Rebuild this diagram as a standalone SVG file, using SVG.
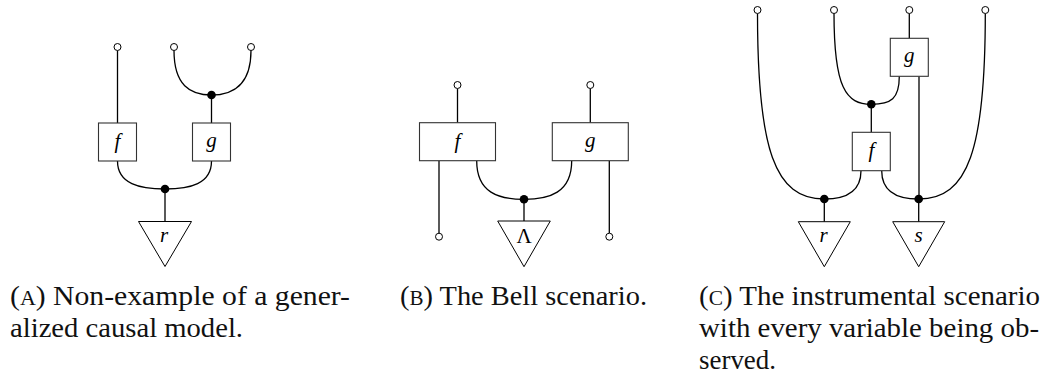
<svg xmlns="http://www.w3.org/2000/svg" width="1051" height="380" viewBox="0 0 1051 380">
<style>
.w{fill:none;stroke:#000;stroke-width:1.3}
.box{fill:#fff;stroke:#333;stroke-width:1.1}
.tri{fill:#fff;stroke:#000;stroke-width:1}
.open{fill:#fff;stroke:#000;stroke-width:1}
.dot{fill:#000}
.lbl{font-family:"Liberation Serif",serif;font-style:italic;font-size:21px;text-anchor:middle;fill:#000}
.up{font-style:normal}
.cap{font-family:"Liberation Serif",serif;font-size:27px;fill:#111}
.sc{font-size:20px}
</style>
<rect width="1051" height="380" fill="#fff"/>

<!-- Panel A -->
<g id="connectors-a">
<path class="w" d="M117.5,50.5 V123"/>
<path class="w" d="M174,50.5 C174,85 190,95 211.5,95"/>
<path class="w" d="M251,50.5 C251,85 233,95 211.5,95"/>
<path class="w" d="M211.5,95 V123"/>
<path class="w" d="M117.5,161 C117.5,184 140,189 165,189"/>
<path class="w" d="M211.5,161 C211.5,184 190,189 165,189"/>
<path class="w" d="M165,189 V221.5"/>
</g>
<g id="a-out1"><circle class="open" cx="117.5" cy="47" r="3.5"/></g>
<g id="a-out2"><circle class="open" cx="174" cy="47" r="3.5"/></g>
<g id="a-out3"><circle class="open" cx="251" cy="47" r="3.5"/></g>
<g id="a-f"><rect class="box" x="98.5" y="123" width="38" height="38"/><text class="lbl" x="117.5" y="148">f</text></g>
<g id="a-g"><rect class="box" x="192.5" y="123" width="38" height="38"/><text class="lbl" x="211.5" y="147">g</text></g>
<g id="a-copy1"><circle class="dot" cx="211.5" cy="95" r="4.3"/></g>
<g id="a-copy2"><circle class="dot" cx="165" cy="189" r="4.3"/></g>
<g id="a-r"><polygon class="tri" points="138.5,221.5 191.5,221.5 165,266.5"/><text class="lbl" x="164" y="242">r</text></g>

<!-- Panel B -->
<g id="connectors-b">
<path class="w" d="M457.5,88.5 V122.7"/>
<path class="w" d="M590.3,88.5 V122.7"/>
<path class="w" d="M439,160.7 V233.2"/>
<path class="w" d="M609.3,160.7 V233.2"/>
<path class="w" d="M476.7,160.7 C476.7,193 499,199.3 524,199.3"/>
<path class="w" d="M571.7,160.7 C571.7,193 549,199.3 524,199.3"/>
<path class="w" d="M524,199.3 V221"/>
</g>
<g id="b-out1"><circle class="open" cx="457.5" cy="85" r="3.5"/></g>
<g id="b-out2"><circle class="open" cx="590.3" cy="85" r="3.5"/></g>
<g id="b-in1"><circle class="open" cx="439" cy="236.7" r="3.5"/></g>
<g id="b-in2"><circle class="open" cx="609.3" cy="236.7" r="3.5"/></g>
<g id="b-f"><rect class="box" x="419.5" y="122.7" width="76" height="38"/><text class="lbl" x="457.5" y="148">f</text></g>
<g id="b-g"><rect class="box" x="552.3" y="122.7" width="76" height="38"/><text class="lbl" x="590.3" y="147">g</text></g>
<g id="b-copy"><circle class="dot" cx="524" cy="199.3" r="4.3"/></g>
<g id="b-lambda"><polygon class="tri" points="497.7,221 550.3,221 524,266.7"/><text class="lbl up" x="524" y="243">Λ</text></g>

<!-- Panel C -->
<g id="connectors-c">
<path class="w" d="M909.3,13.5 V38.3"/>
<path class="w" d="M834,13.5 C834,88 846,104.3 871.3,104.3"/>
<path class="w" d="M899.3,76.3 C899.3,99 891,104.3 871.3,104.3"/>
<path class="w" d="M871.3,104.3 V132.3"/>
<path class="w" d="M919,76.3 V199"/>
<path class="w" d="M861,170.7 C861,192 845,199 824.3,199"/>
<path class="w" d="M881.7,170.7 C881.7,192 898,199 918.7,199"/>
<path class="w" d="M757.5,13.5 C757.5,150 775,199 824.3,199"/>
<path class="w" d="M985.3,13.5 C985.3,150 968,199 918.7,199"/>
<path class="w" d="M824.3,199 V221.7"/>
<path class="w" d="M918.7,199 V221.7"/>
</g>
<g id="c-out1"><circle class="open" cx="757.5" cy="10" r="3.5"/></g>
<g id="c-out2"><circle class="open" cx="834" cy="10" r="3.5"/></g>
<g id="c-out3"><circle class="open" cx="909.3" cy="10" r="3.5"/></g>
<g id="c-out4"><circle class="open" cx="985.3" cy="10" r="3.5"/></g>
<g id="c-g"><rect class="box" x="890.3" y="38.3" width="38" height="38"/><text class="lbl" x="909.3" y="62">g</text></g>
<g id="c-f"><rect class="box" x="852.3" y="132.3" width="38" height="38.4"/><text class="lbl" x="871.3" y="157">f</text></g>
<g id="c-copy1"><circle class="dot" cx="871.3" cy="104.3" r="4.3"/></g>
<g id="c-copy2"><circle class="dot" cx="824.3" cy="199" r="4.3"/></g>
<g id="c-copy3"><circle class="dot" cx="918.7" cy="199" r="4.3"/></g>
<g id="c-r"><polygon class="tri" points="798.3,221.7 850.3,221.7 824.3,266.7"/><text class="lbl" x="823.5" y="242">r</text></g>
<g id="c-s"><polygon class="tri" points="892.7,221.7 944.7,221.7 918.7,266.7"/><text class="lbl" x="918.7" y="242">s</text></g>

<!-- Captions -->
<g id="captions">
<text class="cap" x="10" y="305" textLength="340" lengthAdjust="spacingAndGlyphs">(<tspan class="sc">A</tspan>) Non-example of a gener-</text>
<text class="cap" x="10" y="337" textLength="233" lengthAdjust="spacingAndGlyphs">alized causal model.</text>
<text class="cap" x="400" y="305" textLength="247" lengthAdjust="spacingAndGlyphs">(<tspan class="sc">B</tspan>) The Bell scenario.</text>
<text class="cap" x="699" y="305" textLength="341" lengthAdjust="spacingAndGlyphs">(<tspan class="sc">C</tspan>) The instrumental scenario</text>
<text class="cap" x="699" y="337" textLength="340" lengthAdjust="spacingAndGlyphs">with every variable being ob-</text>
<text class="cap" x="699" y="369" textLength="77" lengthAdjust="spacingAndGlyphs">served.</text>
</g>
</svg>
